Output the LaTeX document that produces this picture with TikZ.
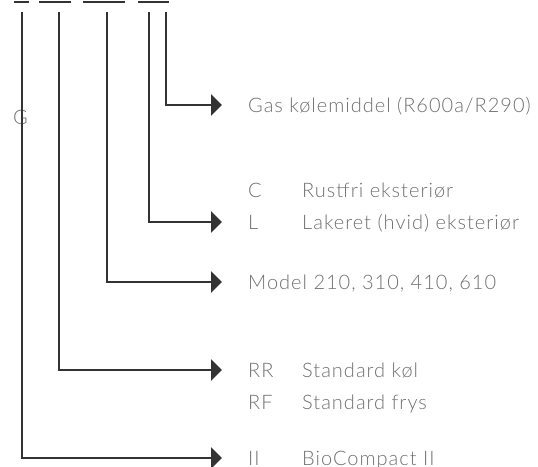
\documentclass[tikz,border=0pt]{standalone}
\usepackage{fontspec}
\setmainfont{Lato}[UprightFont=* Light,LetterSpace=5]
\usetikzlibrary{arrows.meta}
\definecolor{linec}{HTML}{333333}
\definecolor{textc}{HTML}{707070}
\begin{document}
\begin{tikzpicture}[x=1pt,y=-1pt,
  conn/.style={draw=linec,line width=2.6pt,-{Triangle[length=11pt,width=21pt]}},
  dashseg/.style={draw=linec,line width=2pt},
  lbl/.style={text=textc,font=\fontsize{20}{24}\selectfont,anchor=base west,inner sep=0pt}]
\useasboundingbox (0,0) rectangle (538,466);
% top dashes
\draw[dashseg] (14,2) -- (29,2);
\draw[dashseg] (39,2) -- (71,2);
\draw[dashseg] (83,2) -- (125,2);
\draw[dashseg] (138,2) -- (169,2);
% line tops
\coordinate (t1) at (22,12);
\coordinate (t2) at (59,12);
\coordinate (t3) at (107,12);
\coordinate (t4) at (149,12);
\coordinate (t5) at (166,12);
% arrow ends
\coordinate (e1) at (222,458);
\coordinate (e2) at (222,370);
\coordinate (e3) at (222,282);
\coordinate (e4) at (222,222);
\coordinate (e5) at (222,105);
% labels
\node[lbl] (g) at (13,124.5) {G};
\node[lbl] (gas) at (248,112.5) {Gas kølemiddel (R600a/R290)};
\node[lbl] (c) at (248,197.5) {C};
\node[lbl] (cdesc) at (302,197.5) {Rustfri eksteriør};
\node[lbl] (l) at (248,229.5) {L};
\node[lbl] (ldesc) at (302,229.5) {Lakeret (hvid) eksteriør};
\node[lbl] (model) at (248,289.5) {Model 210, 310, 410, 610};
\node[lbl] (rr) at (248,377.5) {RR};
\node[lbl] (rrdesc) at (302,377.5) {Standard køl};
\node[lbl] (rf) at (248,409.5) {RF};
\node[lbl] (rfdesc) at (302,409.5) {Standard frys};
\node[lbl] (ii) at (248,465) {II};
\node[lbl] (iidesc) at (302,465) {BioCompact II};
% connectors
\draw[conn] (t1) |- (e1);
\draw[conn] (t2) |- (e2);
\draw[conn] (t3) |- (e3);
\draw[conn] (t4) |- (e4);
\draw[conn] (t5) |- (e5);
\end{tikzpicture}
\end{document}
